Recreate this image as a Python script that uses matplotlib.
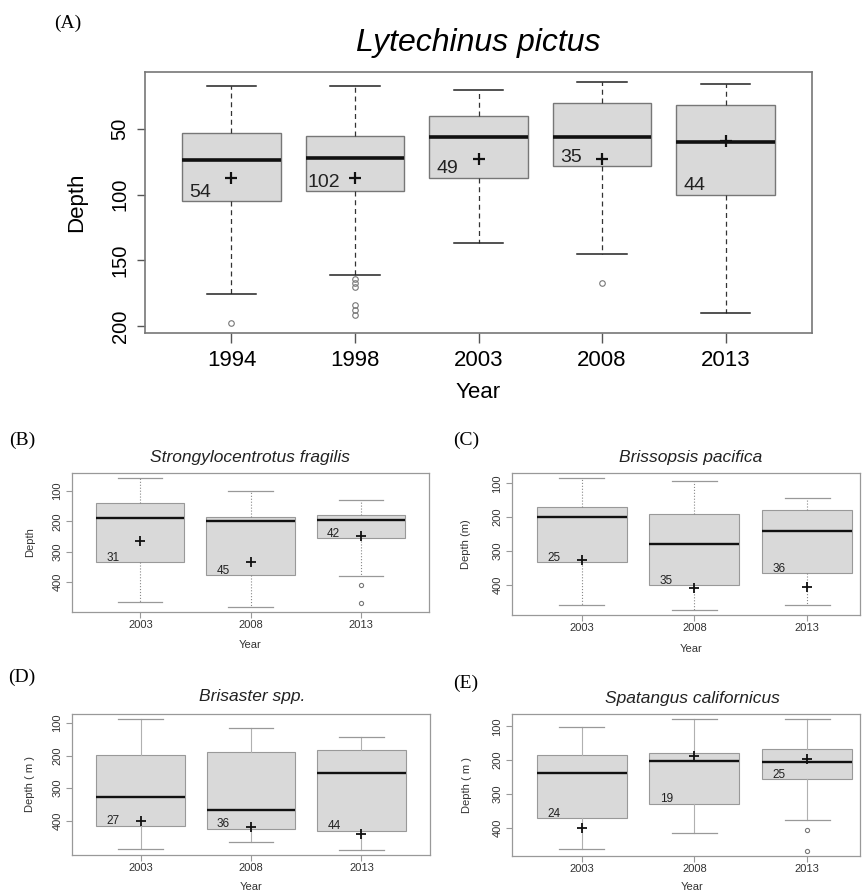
import matplotlib
matplotlib.use("Agg")
import matplotlib.pyplot as plt

W, H = 863, 893
plt.rcParams['font.family'] = ['Liberation Sans', 'DejaVu Sans']

# ---------------- data ----------------
A_years = ['1994', '1998', '2003', '2008', '2013']
A_whislo = [17, 17, 20, 14, 16]
A_q1 = [53, 55, 40, 30, 32]
A_med = [74, 72, 56, 56, 60]
A_q3 = [105, 97, 87, 78, 100]
A_whishi = [176, 161, 137, 145, 190]
A_mean = [87, 87, 73, 73, 59]
A_fliers = [[198], [164, 167, 170, 184, 188, 192], [], [167], []]
A_n = [54, 102, 49, 35, 44]

S_years = ['2003', '2008', '2013']

B_whislo = [58, 100, 130]
B_q1 = [140, 185, 180]
B_med = [190, 200, 197]
B_q3 = [335, 378, 255]
B_whishi = [466, 482, 381]
B_mean = [265, 335, 250]
B_fliers = [[], [], [410, 469]]
B_n = [31, 45, 42]

C_whislo = [85, 94, 144]
C_q1 = [170, 190, 180]
C_med = [200, 280, 240]
C_q3 = [333, 400, 365]
C_whishi = [459, 473, 459]
C_mean = [325, 409, 406]
C_fliers = [[], [], []]
C_n = [25, 35, 36]

D_whislo = [88, 115, 143]
D_q1 = [199, 190, 184]
D_med = [329, 369, 255]
D_q3 = [416, 425, 431]
D_whishi = [487, 465, 490]
D_mean = [400, 419, 441]
D_fliers = [[], [], []]
D_n = [27, 36, 44]

E_whislo = [103, 79, 79]
E_q1 = [185, 179, 168]
E_med = [238, 203, 206]
E_q3 = [371, 329, 256]
E_whishi = [462, 415, 376]
E_mean = [400, 188, 197]
E_fliers = [[], [], [406, 468]]
E_n = [24, 19, 25]

fig = plt.figure(figsize=(W / 100, H / 100), dpi=100)
fig.patch.set_facecolor('white')


def ax_px(l, t, r, b):
    return fig.add_axes([l / W, 1 - b / H, (r - l) / W, (b - t) / H])


def stats(whislo, q1, med, q3, whishi, mean, fliers, labels):
    out = []
    for i in range(len(labels)):
        out.append(dict(whislo=whislo[i], q1=q1[i], med=med[i], q3=q3[i],
                        whishi=whishi[i], mean=mean[i], fliers=fliers[i],
                        label=labels[i]))
    return out


def draw(ax, st, n, big, xlim, edge, whisk_ls, whisk_col):
    pos = list(range(1, len(st) + 1))
    ax.bxp(st, positions=pos, widths=0.8, patch_artist=True, showmeans=True,
           boxprops=dict(facecolor='#d9d9d9', edgecolor=edge, lw=1.0 if big else 0.8),
           medianprops=dict(color='#111111', lw=2.6 if big else 1.7),
           whiskerprops=dict(color=whisk_col, lw=0.9 if big else 0.8, ls=whisk_ls),
           capprops=dict(color='#222222' if big else '#999999', lw=1.1 if big else 0.9),
           capwidths=0.4,
           meanprops=dict(marker='+', markeredgecolor='#111111', markersize=9 if big else 7,
                          markeredgewidth=1.6 if big else 1.3),
           flierprops=dict(marker='o', markerfacecolor='none', markeredgecolor='#777777',
                           markersize=4 if big else 3, markeredgewidth=0.8))
    lo = min(min(s['whislo'] for s in st), min([min(s['fliers']) for s in st if s['fliers']] or [1e9]))
    hi = max(max(s['whishi'] for s in st), max([max(s['fliers']) for s in st if s['fliers']] or [-1e9]))
    pad = 0.04 * (hi - lo)
    ax.set_ylim(hi + pad, lo - pad)
    ax.set_xlim(*xlim)
    for i, s in enumerate(st):
        ax.annotate(str(n[i]), xy=(pos[i] - 0.25, s['q3']), xytext=(0, 3 if big else 1),
                    textcoords='offset points', ha='center', va='baseline',
                    fontsize=14 if big else 8.5, color='#222222')
    for sp in ax.spines.values():
        sp.set_color(edge)
        sp.set_linewidth(1.2 if big else 0.9)


# ---------------- panel A ----------------
axA = ax_px(145, 72, 812, 333)
draw(axA, stats(A_whislo, A_q1, A_med, A_q3, A_whishi, A_mean, A_fliers, A_years), A_n,
     True, (0.3, 5.7), '#777777', (0, (4, 3)), '#333333')
axA.set_yticks([50, 100, 150, 200])
axA.tick_params(axis='x', length=7, width=1, color='#555555', labelsize=16, pad=5)
axA.tick_params(axis='y', length=6, width=1, color='#555555', labelsize=14.5, pad=5,
                labelrotation=90)
for t in axA.get_yticklabels():
    t.set_va('center')
fig.text(478 / W, 1 - 393 / H, 'Year', fontsize=16, ha='center', va='center')
fig.text(77 / W, 1 - 202 / H, 'Depth', fontsize=16, ha='center', va='center', rotation=90)
fig.text(478 / W, 1 - 43 / H, 'Lytechinus pictus', fontsize=23, style='italic',
         ha='center', va='center')
fig.text(68 / W, 1 - 23 / H, '(A)', fontsize=14, family='Liberation Serif',
         ha='center', va='center')

# ---------------- small panels ----------------
small = [
    ('(B)', 'Strongylocentrotus fragilis', 'Depth',
     (72, 473, 429, 612), (0.38, 3.62),
     stats(B_whislo, B_q1, B_med, B_q3, B_whishi, B_mean, B_fliers, S_years), B_n,
     (22, 440), (250, 458), 645, 30, ':', '#888888'),
    ('(C)', 'Brissopsis pacifica', 'Depth (m)',
     (512, 473, 860, 615), (0.38, 3.47),
     stats(C_whislo, C_q1, C_med, C_q3, C_whishi, C_mean, C_fliers, S_years), C_n,
     (466, 440), (691, 458), 649, 466, ':', '#888888'),
    ('(D)', 'Brisaster spp.', 'Depth ( m )',
     (72, 714, 430, 855), (0.38, 3.62),
     stats(D_whislo, D_q1, D_med, D_q3, D_whishi, D_mean, D_fliers, S_years), D_n,
     (22, 677), (252, 697), 887, 30, '-', '#b0b0b0'),
    ('(E)', 'Spatangus californicus', 'Depth ( m )',
     (512, 714, 860, 856), (0.38, 3.47),
     stats(E_whislo, E_q1, E_med, E_q3, E_whishi, E_mean, E_fliers, S_years), E_n,
     (466, 683), (692, 698), 887, 467, '-', '#b0b0b0'),
]

for tag, title, ylab, box, xlim, st, n, tagxy, titxy, yeary, ylabx, wls, wcol in small:
    ax = ax_px(*box)
    draw(ax, st, n, False, xlim, '#999999', wls, wcol)
    ax.set_yticks([100, 200, 300, 400])
    ax.tick_params(axis='x', length=4, width=0.8, color='#999999', labelsize=8, pad=2,
                   labelcolor='#333333')
    ax.tick_params(axis='y', length=4, width=0.8, color='#999999', labelsize=8, pad=3,
                   labelrotation=90, labelcolor='#333333')
    for t in ax.get_yticklabels():
        t.set_va('center')
    cx = (box[0] + box[2]) / 2 if tag in ('(B)', '(D)') else titxy[0]
    fig.text(cx / W, 1 - yeary / H, 'Year', fontsize=8, ha='center', va='center',
             color='#333333')
    fig.text(ylabx / W, 1 - (box[1] + box[3]) / 2 / H, ylab, fontsize=8, ha='center',
             va='center', rotation=90, color='#333333')
    fig.text(titxy[0] / W, 1 - titxy[1] / H, title, fontsize=12.5, style='italic',
             ha='center', va='center', color='#222222')
    fig.text(tagxy[0] / W, 1 - tagxy[1] / H, tag, fontsize=14, family='Liberation Serif',
             ha='center', va='center')

fig.savefig('out.png', dpi=100, facecolor='white')
